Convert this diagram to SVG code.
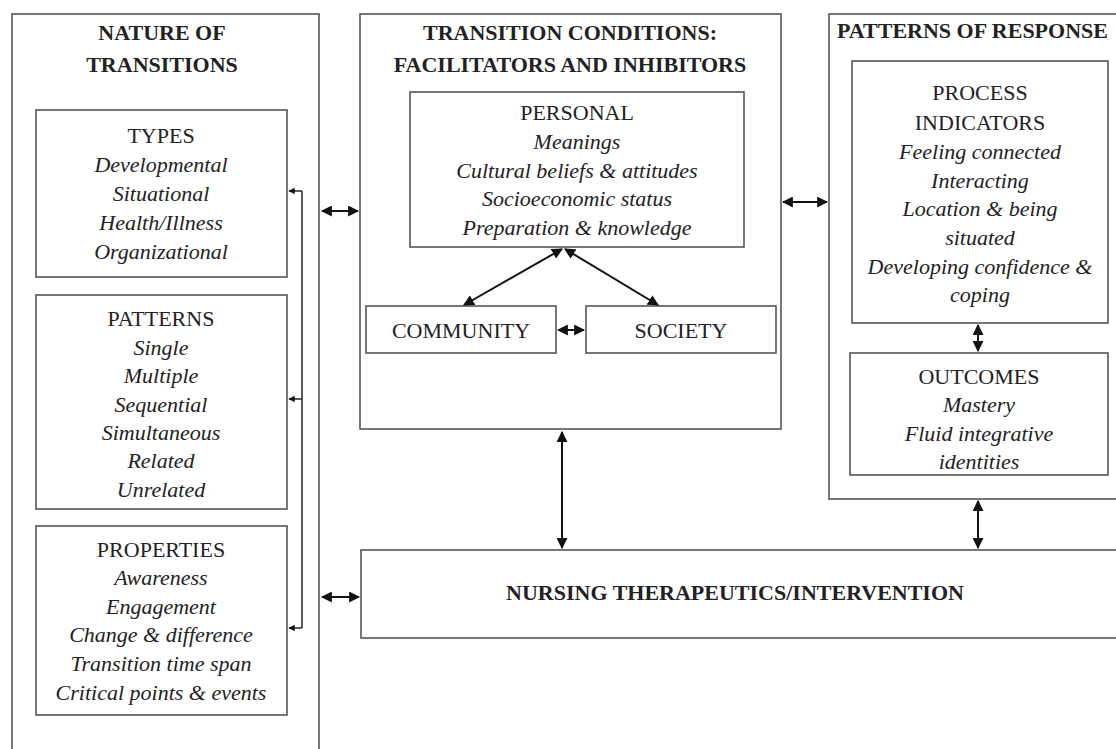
<svg xmlns="http://www.w3.org/2000/svg" width="1116" height="749" viewBox="0 0 1116 749">
<defs>
<style>
.box{fill:none;stroke:#555;stroke-width:1.6}
.t{font-family:"Liberation Serif",serif;font-size:22px;fill:#222;text-anchor:middle}
.i{font-style:italic}
.b{font-weight:bold;font-size:22px}
.c{fill:none;stroke:#111;stroke-width:2}
.c1{fill:none;stroke:#333;stroke-width:1.6}
</style>
<marker id="ah" viewBox="0 0 10 10" refX="9" refY="5" markerWidth="5.5" markerHeight="5.5" orient="auto-start-reverse" markerUnits="strokeWidth">
<path d="M0,0 L10,5 L0,10 z" fill="#111"/>
</marker>
<marker id="as" viewBox="0 0 10 10" refX="9" refY="5" markerWidth="4" markerHeight="4" orient="auto" markerUnits="strokeWidth">
<path d="M0,0 L10,5 L0,10 z" fill="#111"/>
</marker>
</defs>
<rect width="1116" height="749" fill="#fff"/>

<g id="nature">
<rect class="box" x="12" y="14" width="307" height="740"/>
<text class="t b" x="162" y="40">NATURE OF</text>
<text class="t b" x="162" y="72">TRANSITIONS</text>
</g>
<g id="types">
<rect class="box" x="36" y="110" width="251" height="167"/>
<text class="t" x="161" y="143">TYPES</text>
<text class="t i" x="161" y="172">Developmental</text>
<text class="t i" x="161" y="201">Situational</text>
<text class="t i" x="161" y="230">Health/Illness</text>
<text class="t i" x="161" y="259">Organizational</text>
</g>
<g id="patterns">
<rect class="box" x="36" y="295" width="251" height="214"/>
<text class="t" x="161" y="326">PATTERNS</text>
<text class="t i" x="161" y="355">Single</text>
<text class="t i" x="161" y="383">Multiple</text>
<text class="t i" x="161" y="412">Sequential</text>
<text class="t i" x="161" y="440">Simultaneous</text>
<text class="t i" x="161" y="468">Related</text>
<text class="t i" x="161" y="497">Unrelated</text>
</g>
<g id="properties">
<rect class="box" x="36" y="526" width="251" height="189"/>
<text class="t" x="161" y="557">PROPERTIES</text>
<text class="t i" x="161" y="585">Awareness</text>
<text class="t i" x="161" y="614">Engagement</text>
<text class="t i" x="161" y="642">Change &amp; difference</text>
<text class="t i" x="161" y="671">Transition time span</text>
<text class="t i" x="161" y="700">Critical points &amp; events</text>
</g>

<g id="conditions">
<rect class="box" x="360" y="14" width="421" height="415"/>
<text class="t b" x="570" y="40">TRANSITION CONDITIONS:</text>
<text class="t b" x="570" y="72">FACILITATORS AND INHIBITORS</text>
</g>
<g id="personal">
<rect class="box" x="410" y="92" width="334" height="155"/>
<text class="t" x="577" y="120">PERSONAL</text>
<text class="t i" x="577" y="149">Meanings</text>
<text class="t i" x="577" y="178">Cultural beliefs &amp; attitudes</text>
<text class="t i" x="577" y="206">Socioeconomic status</text>
<text class="t i" x="577" y="235">Preparation &amp; knowledge</text>
</g>
<g id="community">
<rect class="box" x="366" y="306" width="190" height="47"/>
<text class="t" x="461" y="338">COMMUNITY</text>
</g>
<g id="society">
<rect class="box" x="586" y="306" width="190" height="47"/>
<text class="t" x="681" y="338">SOCIETY</text>
</g>

<g id="response">
<rect class="box" x="829" y="14" width="300" height="485"/>
<text class="t b" x="837" y="38" style="text-anchor:start">PATTERNS OF RESPONSE</text>
</g>
<g id="process">
<rect class="box" x="852" y="61" width="256" height="262"/>
<text class="t" x="980" y="100">PROCESS</text>
<text class="t" x="980" y="130">INDICATORS</text>
<text class="t i" x="980" y="159">Feeling connected</text>
<text class="t i" x="980" y="188">Interacting</text>
<text class="t i" x="980" y="216">Location &amp; being</text>
<text class="t i" x="980" y="245">situated</text>
<text class="t i" x="980" y="274">Developing confidence &amp;</text>
<text class="t i" x="980" y="302">coping</text>
</g>
<g id="outcomes">
<rect class="box" x="850" y="353" width="258" height="122"/>
<text class="t" x="979" y="384">OUTCOMES</text>
<text class="t i" x="979" y="412">Mastery</text>
<text class="t i" x="979" y="441">Fluid integrative</text>
<text class="t i" x="979" y="469">identities</text>
</g>

<g id="nursing">
<rect class="box" x="361" y="550" width="770" height="88"/>
<text class="t b" x="735" y="600">NURSING THERAPEUTICS/INTERVENTION</text>
</g>

<g id="connectors">
<polyline class="c1" points="302,191 302,628"/>
<line class="c1" x1="302" y1="191" x2="289" y2="191" marker-end="url(#as)"/>
<line class="c1" x1="302" y1="399" x2="289" y2="399" marker-end="url(#as)"/>
<line class="c1" x1="302" y1="628" x2="289" y2="628" marker-end="url(#as)"/>
<line class="c" x1="322" y1="211" x2="358" y2="211" marker-start="url(#ah)" marker-end="url(#ah)"/>
<line class="c" x1="322" y1="597" x2="359" y2="597" marker-start="url(#ah)" marker-end="url(#ah)"/>
<line class="c" x1="783" y1="202" x2="827" y2="202" marker-start="url(#ah)" marker-end="url(#ah)"/>
<line class="c" x1="562" y1="249" x2="464" y2="305" marker-start="url(#ah)" marker-end="url(#ah)"/>
<line class="c" x1="565" y1="249" x2="658" y2="305" marker-start="url(#ah)" marker-end="url(#ah)"/>
<line class="c" x1="558" y1="330" x2="584" y2="330" marker-start="url(#ah)" marker-end="url(#ah)"/>
<line class="c" x1="562" y1="432" x2="562" y2="548" marker-start="url(#ah)" marker-end="url(#ah)"/>
<line class="c" x1="978" y1="325" x2="978" y2="351" marker-start="url(#ah)" marker-end="url(#ah)"/>
<line class="c" x1="978" y1="501" x2="978" y2="548" marker-start="url(#ah)" marker-end="url(#ah)"/>
</g>
</svg>
